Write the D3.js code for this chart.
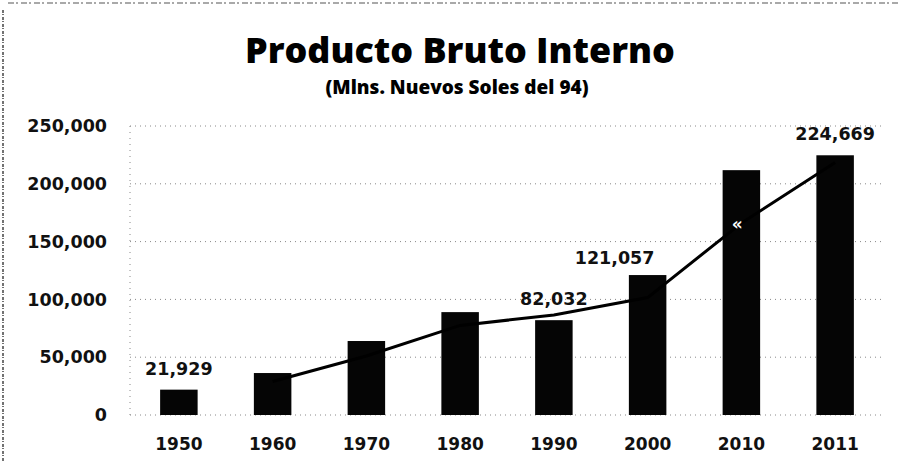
<!DOCTYPE html>
<meta charset="utf-8">
<style>
    body{
        margin: 0;
        background: #fff;
    }
    .title{
        font-family: "Open Sans", sans-serif;
        font-weight: 800;
    }
    .num{
        font-family: "DejaVu Sans", Verdana, sans-serif;
        font-weight: bold;
        fill: #111;
    }
</style>
<script src="https://cdnjs.cloudflare.com/ajax/libs/d3/7.8.5/d3.min.js"></script>
<body>
<div id="chart"></div>
<script>
    // values
    var years = ["1950", "1960", "1970", "1980", "1990", "2000", "2010", "2011"];
    var pbi = [21929, 36300, 64000, 89000, 82032, 121057, 211800, 224669];
    var trend = [null, 29000, 51000, 77500, 86500, 101600, 166000, 218500];
    var labelled = ["1950", "1990", "2000", "2011"];
    var yTicks = [0, 50000, 100000, 150000, 200000, 250000];

    var width = 898, height = 462;
    var labelShift = {"2000": {dx: -33, dy: 4}};

    var svg = d3.select("#chart")
                .append("svg")
                .attr("width", width)
                .attr("height", height);

    var x = d3.scaleBand()
              .domain(years)
              .range([132, 882])
              .paddingInner(0.6)
              .paddingOuter(0.3);

    var y = d3.scaleLinear()
              .domain([0, 250000])
              .range([415, 126]);

    var fmt = d3.format(",");

    // scanned frame edges
    svg.append("line")
       .attr("x1", 8).attr("x2", width).attr("y1", 3).attr("y2", 3)
       .attr("stroke", "#555").attr("stroke-width", 1.2)
       .attr("stroke-dasharray", "6,2,2,3");
    svg.append("line")
       .attr("x1", 3).attr("x2", 3).attr("y1", 10).attr("y2", height)
       .attr("stroke", "#444").attr("stroke-width", 1.5)
       .attr("stroke-dasharray", "3,1,1,2");

    // titles, stretched to the width they have in the picture
    var t1 = svg.append("text")
       .attr("class", "title")
       .attr("x", 460).attr("y", 63)
       .attr("text-anchor", "middle")
       .style("font-size", "32px")
       .text("Producto Bruto Interno");
    t1.style("font-size", (32 * 430 / t1.node().getComputedTextLength()) + "px");

    var t2 = svg.append("text")
       .attr("class", "title")
       .attr("x", 457).attr("y", 94)
       .attr("text-anchor", "middle")
       .style("font-size", "16px")
       .text("(Mlns. Nuevos Soles del 94)");
    t2.style("font-size", Math.min(19, 16 * 291 / t2.node().getComputedTextLength()) + "px");

    // grid
    svg.append("g")
       .selectAll("line")
       .data(yTicks)
       .join("line")
       .attr("x1", 130).attr("x2", 884)
       .attr("y1", function(d){ return y(d); })
       .attr("y2", function(d){ return y(d); })
       .attr("stroke", "#888")
       .attr("stroke-width", 1)
       .attr("stroke-dasharray", "1,4");
    svg.append("line")
       .attr("x1", 130).attr("x2", 130)
       .attr("y1", y(250000)).attr("y2", y(0))
       .attr("stroke", "#888")
       .attr("stroke-dasharray", "1,5");

    // y axis labels
    var yAxis = d3.axisLeft(y)
                  .tickValues(yTicks)
                  .tickFormat(fmt)
                  .tickSize(0)
                  .tickPadding(0);
    var ya = svg.append("g")
                .attr("transform", "translate(107,0)")
                .call(yAxis);
    ya.select(".domain").remove();
    ya.selectAll("text")
      .attr("class", "num")
      .style("font-size", "17.5px");

    // x axis labels
    var xAxis = d3.axisBottom(x).tickSize(0).tickPadding(0);
    var xa = svg.append("g")
                .attr("transform", "translate(0,437)")
                .call(xAxis);
    xa.select(".domain").remove();
    xa.selectAll("text")
      .attr("class", "num")
      .attr("dy", "0.75em")
      .style("font-size", "17px");

    // bars
    svg.append("g")
       .selectAll("rect")
       .data(years)
       .join("rect")
       .attr("x", function(d){ return x(d); })
       .attr("width", x.bandwidth())
       .attr("y", function(d, i){ return y(pbi[i]); })
       .attr("height", function(d, i){ return y(0) - y(pbi[i]); })
       .attr("fill", "#050505");

    // trend line
    var line = d3.line()
                 .defined(function(d, i){ return trend[i] != null; })
                 .x(function(d){ return x(d) + x.bandwidth()/2; })
                 .y(function(d, i){ return y(trend[i]); });
    svg.append("path")
       .datum(years)
       .attr("d", line)
       .attr("fill", "none")
       .attr("stroke", "#000")
       .attr("stroke-width", 3);

    // small white mark on the 2010 bar
    svg.append("text")
       .attr("x", x("2010") + 9)
       .attr("y", y(trend[6]) + 7)
       .attr("fill", "#fff")
       .style("font-family", "DejaVu Sans")
       .style("font-weight", "bold")
       .style("font-size", "17px")
       .text("«");

    // value labels
    svg.append("g")
       .selectAll("text")
       .data(labelled)
       .join("text")
       .attr("class", "num")
       .style("font-size", "17.5px")
       .attr("text-anchor", "middle")
       .attr("x", function(d){
           var s = labelShift[d] ? labelShift[d].dx : 0;
           return x(d) + x.bandwidth()/2 + s;
       })
       .attr("y", function(d){
           var s = labelShift[d] ? labelShift[d].dy : 0;
           return y(pbi[years.indexOf(d)]) - 15 + s;
       })
       .text(function(d){ return fmt(pbi[years.indexOf(d)]); });
</script>
</body>
